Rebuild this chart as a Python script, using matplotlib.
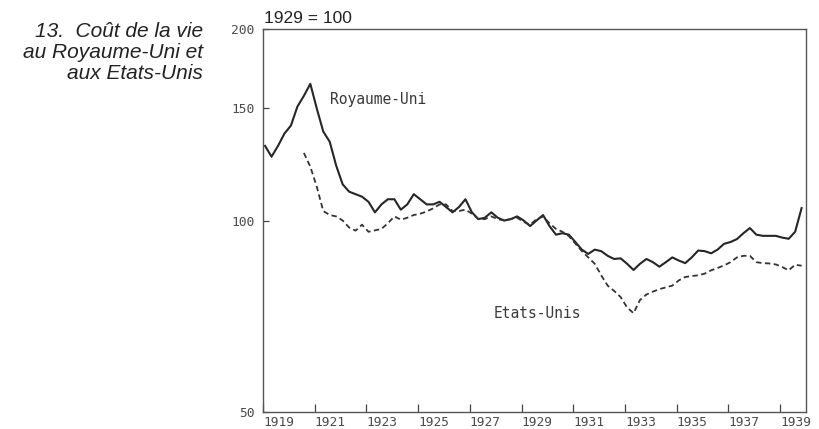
import matplotlib.pyplot as plt
from matplotlib.ticker import FixedLocator, NullLocator
import numpy as np

# quarterly index, 1929 = 100
uk_start = 1919
uk_values = [
    131, 126, 131, 137, 141, 151, 157, 164,
    150, 138, 133, 122, 114, 111, 110, 109,
    107, 103, 106, 108, 108, 104, 106, 110,
    108, 106, 106, 107, 105, 103, 105, 108,
    103, 100.5, 101, 103, 101, 100, 100.5, 101.5,
    100, 98, 100, 102, 98, 95, 95.5, 95,
    92.5, 90, 88.6, 90, 89.5, 88, 87, 87.2,
    85.5, 83.6, 85.5, 87, 86, 84.6, 86, 87.5,
    86.5, 85.7, 87.5, 89.7, 89.5, 88.8, 90, 91.9,
    92.5, 93.5, 95.5, 97.3, 95, 94.6, 94.6, 94.6,
    94, 93.6, 96, 104.6,
]
us_start = 1920.5
us_values = [
    127.7, 121.5, 113, 103.5, 102, 101.5, 100, 97.5,
    96.4, 98.5, 96, 96.5, 97, 99, 101.5, 100.3,
    101, 102, 102.5, 103.3, 104.5, 106, 106, 103.5,
    103.5, 104, 102.5, 100.5, 100.5, 101.5, 100.5, 100,
    100.5, 101, 99.5, 98.5, 100.5, 101.5, 99, 97,
    96, 94.5, 92, 89.5, 87.5, 85.5, 82, 79,
    77.5, 75.8, 73, 71.5, 75, 76.5, 77.3, 78,
    78.5, 79, 80.5, 81.5, 81.8, 82, 82.5, 83.5,
    84.2, 85, 86, 87.5, 88, 88, 86, 85.7,
    85.6, 85.3, 84.5, 83.5, 85.2, 84.9,
]
years = list(range(1919, 1940, 2))
yticks = [50, 100, 150, 200]
title_lines = ["13.  Coût de la vie", "au Royaume-Uni et", "aux Etats-Unis"]

uk_x = uk_start + 0.08 + 0.25 * np.arange(len(uk_values))
us_x = us_start + 0.08 + 0.25 * np.arange(len(us_values))

W, H = 819, 429
fig = plt.figure(figsize=(W / 100, H / 100), dpi=100)
ax = fig.add_axes([263 / W, 1 - 412 / H, 543 / W, 383 / H])

ax.plot(uk_x, uk_values, color="#262626", lw=1.5)
ax.plot(us_x, us_values, color="#333333", lw=1.3, ls=(0, (3.0, 1.9)))

ax.set_yscale("log")
ax.set_ylim(50, 200)
ax.set_xlim(1919, 1940)

ax.yaxis.set_major_locator(FixedLocator(yticks))
ax.yaxis.set_minor_locator(NullLocator())
ax.set_yticklabels([str(v) for v in yticks])
ax.set_xticks(years)
ax.set_xticklabels([str(y) for y in years], ha="left")

mono = "DejaVu Sans Mono"
ax.tick_params(axis="x", direction="in", length=6, width=0.9, pad=3,
               colors="#444444", labelsize=9.3)
ax.tick_params(axis="y", direction="in", length=4, width=0.9, pad=6,
               colors="#444444", labelsize=9.3)
for lab in ax.get_xticklabels() + ax.get_yticklabels():
    lab.set_fontfamily(mono)
    lab.set_color("#4a4a4a")

for sp in ax.spines.values():
    sp.set_color("#555555")
    sp.set_linewidth(1.0)

ax.text(1921.6, 155, "Royaume-Uni", family=mono, fontsize=10.5,
        color="#3a3a3a", va="center")
ax.text(1927.9, 71.5, "Etats-Unis", family=mono, fontsize=10.5,
        color="#3a3a3a", va="center")

fig.text(264 / W, 1 - 23 / H, "1929 = 100", family="Liberation Sans",
         fontsize=12.5, color="#222222", va="baseline", ha="left")
for k, line in enumerate(title_lines):
    fig.text(203 / W, 1 - (37 + 21 * k) / H, line,
             family="Liberation Sans", style="italic", fontsize=15,
             color="#222222", ha="right", va="baseline")

fig.savefig("out.png", dpi=100)
